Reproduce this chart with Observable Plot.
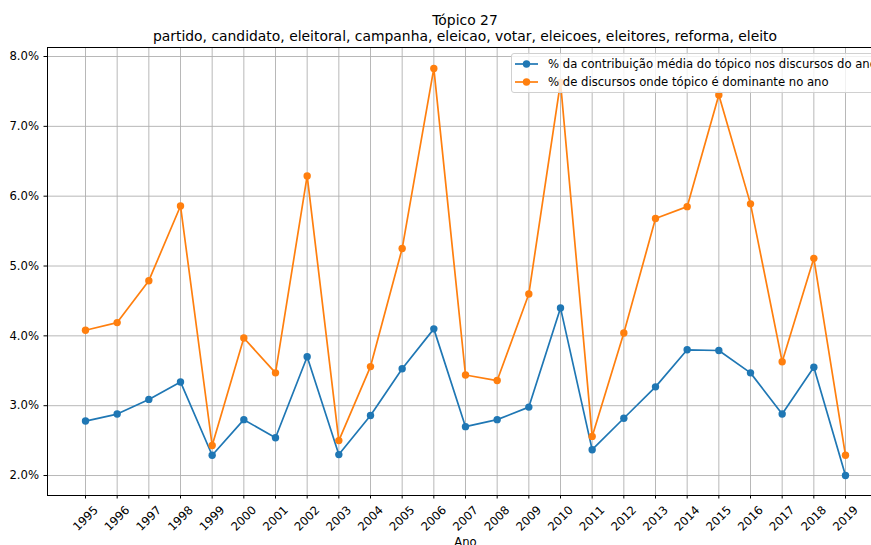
<!DOCTYPE html>
<html>
<head>
<meta charset="utf-8">
<script src="https://cdn.jsdelivr.net/npm/d3@7"></script>
<script src="https://cdn.jsdelivr.net/npm/@observablehq/plot@0.6"></script>
<style>
  html, body { margin: 0; padding: 0; background: white; overflow: hidden; width: 871px; height: 545px; }
  #wrap { position: relative; width: 871px; height: 545px; overflow: hidden; font-family: "DejaVu Sans", sans-serif; }
  .title { position: absolute; left: 0; width: 930px; text-align: center; font-size: 13.9px; line-height: 16.7px; color: #000; white-space: nowrap; }
  #legend { position: absolute; left: 511px; top: 53px; width: 400px; height: 40px; background: rgba(255,255,255,0.8); border: 1px solid #d0d0d0; border-radius: 3px; box-sizing: border-box; }
  .entry { position: absolute; left: 0; height: 18px; font-size: 11.65px; white-space: nowrap; color: #000; }
  .entry svg { position: absolute; left: 3px; top: 0; }
  .entry span { position: absolute; left: 36px; top: 0; line-height: 18px; }
</style>
</head>
<body>
<div id="wrap">
  <div id="chart"></div>
  <div class="title" id="t1" style="top:11.5px"></div>
  <div class="title" id="t2" style="top:28px"></div>
  <div id="legend"></div>
</div>
<script>
const titleLine = "Tópico 27";
const subtitleLine = "partido, candidato, eleitoral, campanha, eleicao, votar, eleicoes, eleitores, reforma, eleito";
const xLabel = "Ano";
const years = [1995,1996,1997,1998,1999,2000,2001,2002,2003,2004,2005,2006,2007,2008,2009,2010,2011,2012,2013,2014,2015,2016,2017,2018,2019];
const contrib = [2.78,2.88,3.09,3.34,2.29,2.80,2.54,3.70,2.30,2.86,3.53,4.10,2.70,2.80,2.98,4.40,2.37,2.82,3.27,3.80,3.79,3.47,2.88,3.55,2.00];
const dominant = [4.08,4.19,4.79,5.86,2.43,3.97,3.47,6.29,2.50,3.56,5.25,7.83,3.44,3.36,4.60,7.63,2.56,4.04,5.68,5.85,7.45,5.89,3.63,5.11,2.29];
const seriesNames = ["% da contribuição média do tópico nos discursos do ano", "% de discursos onde tópico é dominante no ano"];
const seriesColors = ["#1f77b4", "#ff7f0e"];
const yTicks = [2,3,4,5,6,7,8];

document.getElementById("t1").textContent = titleLine;
document.getElementById("t2").textContent = subtitleLine;

const series = [contrib, dominant].map((vals, k) => years.map((y, i) => ({year: y, value: vals[i], s: seriesNames[k]})));

const marks = [
  Plot.gridX(years, {stroke: "#b0b0b0", strokeOpacity: 1, strokeWidth: 0.9}),
  Plot.gridY(yTicks, {stroke: "#b0b0b0", strokeOpacity: 1, strokeWidth: 0.9})
];
series.forEach(rows => {
  marks.push(Plot.line(rows, {x: "year", y: "value", stroke: "s", strokeWidth: 1.7}));
  marks.push(Plot.dot(rows, {x: "year", y: "value", fill: "s", r: 3.7}));
});
marks.push(
  Plot.frame({stroke: "#000", strokeWidth: 1}),
  Plot.axisY(yTicks, {tickSize: 3.5, tickPadding: 5, tickFormat: d => d.toFixed(1) + "%", label: null, fontSize: 11.65, stroke: "#000"}),
  Plot.axisX(years, {tickSize: 3.5, tickFormat: () => "", label: null, stroke: "#000"}),
  Plot.text(years, {x: d => d, frameAnchor: "bottom", lineAnchor: "middle", dy: 23, rotate: -45, text: d => String(d), fontSize: 11.65, fill: "#000"}),
  Plot.text([xLabel], {frameAnchor: "bottom", lineAnchor: "middle", dy: 46.5, text: d => d, fontSize: 11.65, fill: "#000"})
);

const chart = Plot.plot({
  width: 871,
  height: 545,
  marginTop: 47,
  marginBottom: 50,
  marginLeft: 47,
  marginRight: -12,
  style: {fontFamily: "DejaVu Sans", fontSize: "11.65px", color: "#000", background: "white"},
  x: {domain: [1993.8, 2020.2], axis: null},
  y: {domain: [1.714, 8.129], axis: null},
  color: {domain: seriesNames, range: seriesColors},
  marks
});
document.getElementById("chart").appendChild(chart);

const legend = document.getElementById("legend");
seriesNames.forEach((name, k) => {
  const e = document.createElement("div");
  e.className = "entry";
  e.style.top = (k === 0 ? 0.5 : 18.5) + "px";
  e.innerHTML = `<svg width="26" height="18"><line x1="0" y1="9" x2="23" y2="9" stroke="${seriesColors[k]}" stroke-width="1.7"/><circle cx="11.5" cy="9" r="3.7" fill="${seriesColors[k]}"/></svg><span></span>`;
  e.querySelector("span").textContent = name;
  legend.appendChild(e);
});
</script>
</body>
</html>
